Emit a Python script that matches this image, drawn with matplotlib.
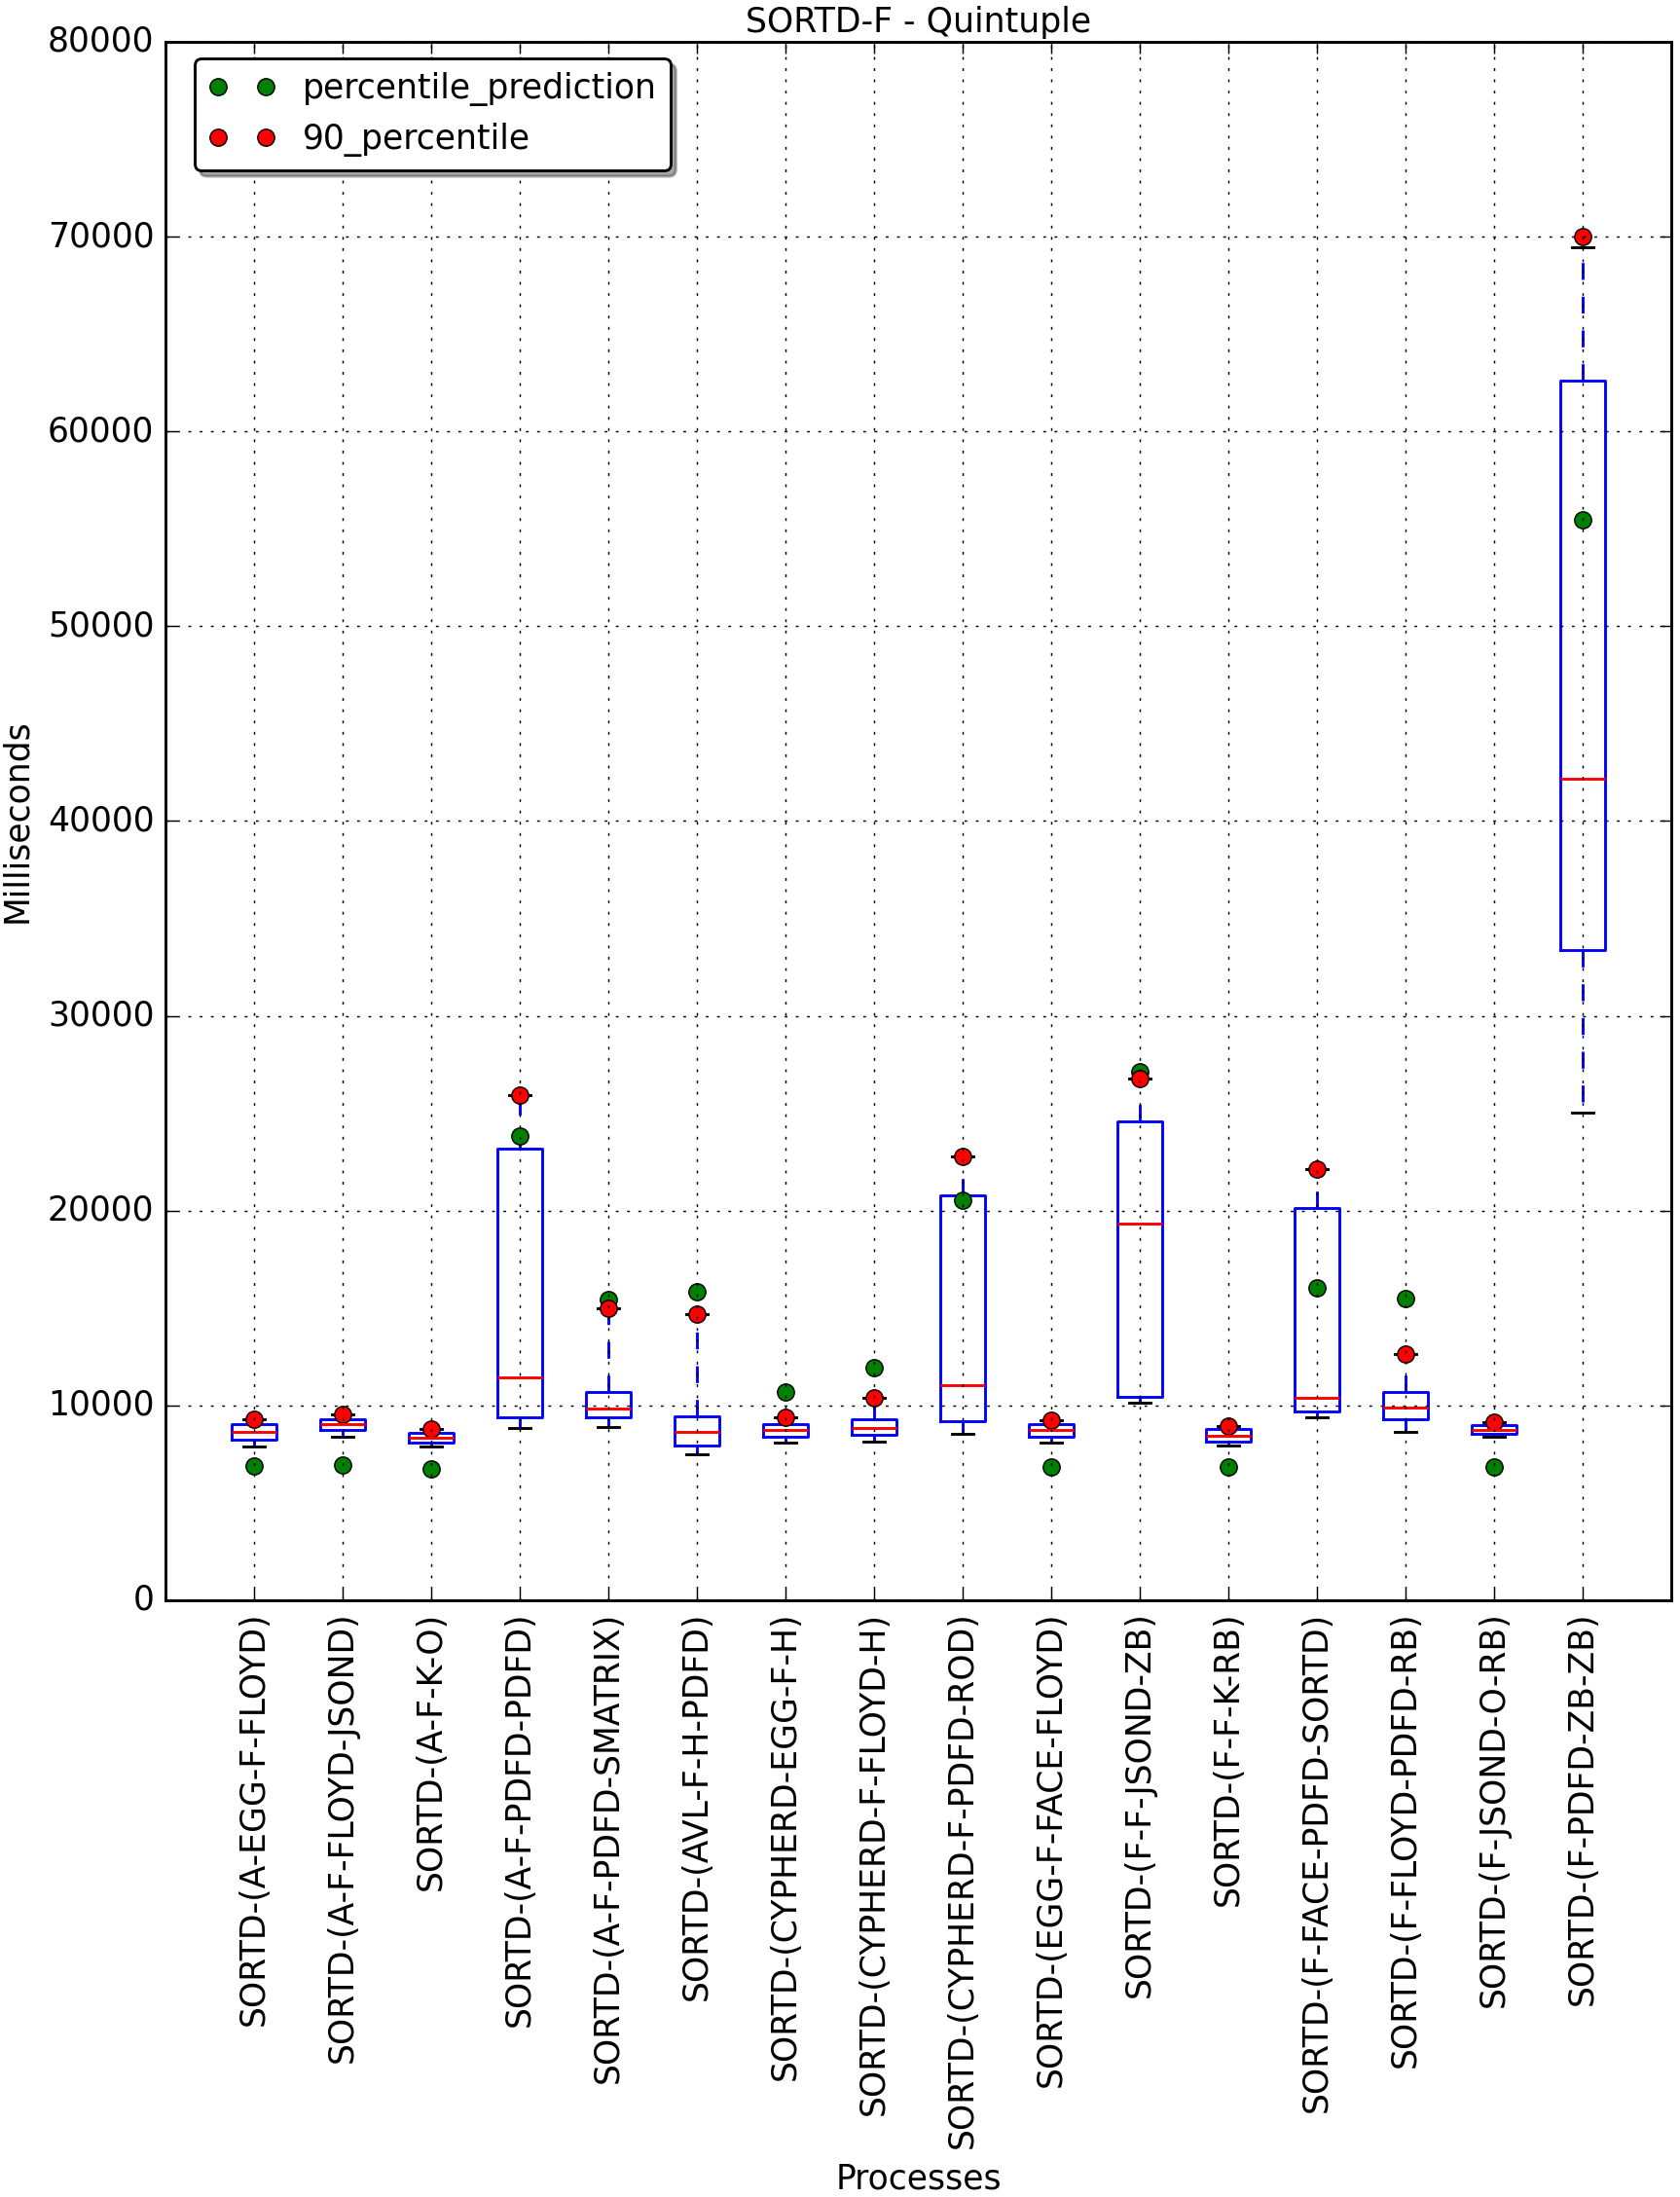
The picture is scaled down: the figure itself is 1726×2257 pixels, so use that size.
import matplotlib
matplotlib.use('Agg')
import matplotlib.pyplot as plt

# process names (x categories)
processes = [
    'SORTD-(A-EGG-F-FLOYD)', 'SORTD-(A-F-FLOYD-JSOND)', 'SORTD-(A-F-K-O)',
    'SORTD-(A-F-PDFD-PDFD)', 'SORTD-(A-F-PDFD-SMATRIX)', 'SORTD-(AVL-F-H-PDFD)',
    'SORTD-(CYPHERD-EGG-F-H)', 'SORTD-(CYPHERD-F-FLOYD-H)', 'SORTD-(CYPHERD-F-PDFD-ROD)',
    'SORTD-(EGG-F-FACE-FLOYD)', 'SORTD-(F-F-JSOND-ZB)', 'SORTD-(F-F-K-RB)',
    'SORTD-(F-FACE-PDFD-SORTD)', 'SORTD-(F-FLOYD-PDFD-RB)', 'SORTD-(F-JSOND-O-RB)',
    'SORTD-(F-PDFD-ZB-ZB)',
]

# box statistics (ms)
whis_lo = [7890, 8390, 7890, 8850, 8890, 7490, 8080, 8140, 8540, 8080, 10150, 7930, 9390, 8640, 8370, 25050]
q1 = [8240, 8720, 8080, 9390, 9390, 7930, 8390, 8510, 9200, 8390, 10440, 8120, 9670, 9270, 8520, 33390]
median = [8640, 9040, 8330, 11440, 9850, 8640, 8740, 8850, 11050, 8720, 19350, 8430, 10380, 9890, 8720, 42170]
q3 = [9040, 9290, 8600, 23160, 10690, 9460, 9040, 9290, 20770, 9040, 24560, 8790, 20150, 10690, 8990, 62620]
whis_hi = [9270, 9520, 8810, 25920, 15000, 14690, 9370, 10400, 22760, 9250, 26760, 8950, 22110, 12640, 9140, 69430]

# markers
percentile_prediction = [6900, 6940, 6740, 23850, 15460, 15860, 10690, 11950, 20520, 6840, 27150, 6840, 16050, 15500, 6840, 55460]
percentile_90 = [9270, 9520, 8810, 25920, 15000, 14690, 9370, 10400, 22760, 9250, 26760, 8950, 22110, 12640, 9140, 70000]

plt.style.use('classic')

DPI = 208
fig = plt.figure(figsize=(1726 / DPI, 2257 / DPI), dpi=DPI)
ax = fig.add_axes([0.0985, 0.2716, 0.8963, 0.7094])

stats = []
for i, name in enumerate(processes):
    stats.append({
        'label': name,
        'whislo': whis_lo[i],
        'q1': q1[i],
        'med': median[i],
        'q3': q3[i],
        'whishi': whis_hi[i],
        'fliers': [],
    })
ax.bxp(stats, showfliers=False)

pos = list(range(1, len(processes) + 1))
ax.plot(pos, percentile_prediction, 'o', color='green', label='percentile_prediction')
ax.plot(pos, percentile_90, 'o', color='red', label='90_percentile')

ax.set_ylim(0, 80000)
ax.set_xlim(0, len(processes) + 1)
ax.set_xticks(pos)
ax.set_xticklabels(processes, rotation=90)
ax.grid(True)
ax.set_title('SORTD-F - Quintuple', fontsize=12, pad=3.5)
ax.set_xlabel('Processes')
ax.set_ylabel('Milliseconds')
ax.legend(loc='upper left', bbox_to_anchor=(0.008, 1.0), fancybox=True, shadow=True, fontsize=12)

fig.savefig('out.png', dpi=DPI)
